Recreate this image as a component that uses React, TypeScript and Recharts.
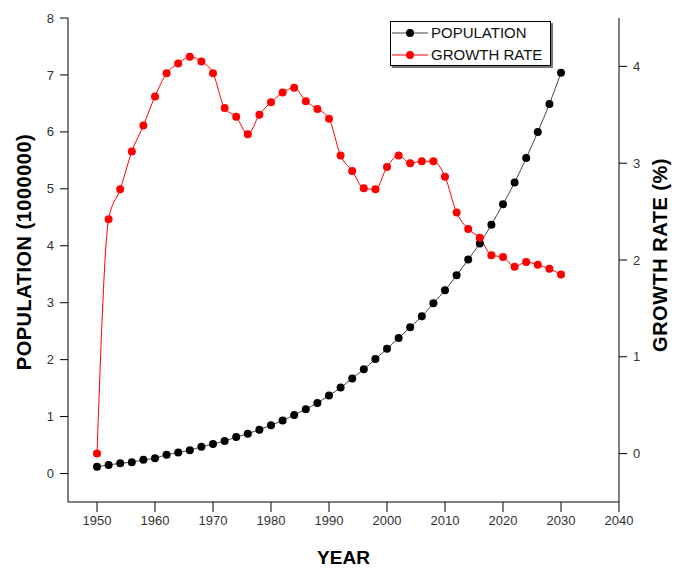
import {
  LineChart,
  Line,
  XAxis,
  YAxis,
  Legend,
  Label,
} from "recharts";

const years = [
  1950, 1952, 1954, 1956, 1958, 1960, 1962, 1964, 1966, 1968, 1970, 1972, 1974,
  1976, 1978, 1980, 1982, 1984, 1986, 1988, 1990, 1992, 1994, 1996, 1998, 2000,
  2002, 2004, 2006, 2008, 2010, 2012, 2014, 2016, 2018, 2020, 2022, 2024, 2026,
  2028, 2030,
];

// population, in units of 1000000 (left axis)
const population = [
  0.12, 0.15, 0.18, 0.2, 0.24, 0.27, 0.33, 0.37, 0.41, 0.47, 0.52, 0.57, 0.64,
  0.7, 0.77, 0.85, 0.93, 1.03, 1.13, 1.24, 1.37, 1.51, 1.67, 1.83, 2.01, 2.19,
  2.38, 2.57, 2.76, 2.99, 3.22, 3.48, 3.76, 4.04, 4.37, 4.73, 5.11, 5.54, 6.0,
  6.49, 7.04,
];

// growth rate in % (right axis)
const growthRate = [
  0.0, 2.42, 2.73, 3.12, 3.39, 3.69, 3.93, 4.03, 4.1, 4.05, 3.93, 3.57, 3.48,
  3.3, 3.5, 3.63, 3.73, 3.78, 3.64, 3.56, 3.46, 3.08, 2.92, 2.74, 2.73, 2.96,
  3.08, 3.0, 3.02, 3.02, 2.86, 2.49, 2.32, 2.23, 2.05, 2.03, 1.93, 1.98, 1.95,
  1.91, 1.85,
];

const yearTicks = [1950, 1960, 1970, 1980, 1990, 2000, 2010, 2020, 2030, 2040];
const popTicks = [0, 1, 2, 3, 4, 5, 6, 7, 8];
const rateTicks = [0, 1, 2, 3, 4];

const data = years.map((year, i) => ({
  year,
  population: population[i],
  growth: growthRate[i],
}));

const FONT = '"Liberation Sans", Arial, sans-serif';
const tickStyle = { fontSize: 13, fill: "#333", fontFamily: FONT };
const titleStyle = {
  fontSize: 19,
  fontWeight: 700,
  fill: "#000",
  fontFamily: FONT,
  textAnchor: "middle" as const,
};

// rotated axis title drawn at a fixed centre point
function sideTitle(text: string, cx: number, cy: number) {
  return () => (
    <text
      x={cx}
      y={cy}
      transform={`rotate(-90 ${cx} ${cy})`}
      textAnchor="middle"
      dominantBaseline="central"
      fontFamily={FONT}
      fontSize={20}
      fontWeight={700}
      letterSpacing={0.5}
      fill="#000"
    >
      {text}
    </text>
  );
}

const legendItems = [
  { name: "POPULATION", line: "#444", dot: "#000" },
  { name: "GROWTH RATE", line: "#ff0000", dot: "#ff0000" },
];

function renderLegend() {
  return (
    <div
      style={{
        border: "1px solid #000",
        boxShadow: "2px 2px 0 #777",
        background: "#fff",
        width: 159,
        height: 43,
        fontFamily: FONT,
        fontSize: 15,
        color: "#111",
      }}
    >
      {legendItems.map((item) => (
        <div
          key={item.name}
          style={{ display: "flex", alignItems: "center", height: 22 }}
        >
          <svg width={40} height={22}>
            <line x1={1} x2={37} y1={11} y2={11} stroke={item.line} strokeWidth={1} />
            <circle cx={19} cy={11} r={4} fill={item.dot} />
          </svg>
          <span style={{ lineHeight: "22px" }}>{item.name}</span>
        </div>
      ))}
    </div>
  );
}

export default function App() {
  return (
    <div style={{ position: "absolute", left: 0, top: 0, background: "#fff" }}>
      <LineChart
        width={681}
        height={570}
        data={data}
        margin={{ top: 18, right: 0, bottom: 0, left: 0 }}
      >
        <XAxis
          dataKey="year"
          type="number"
          domain={[1945, 2040]}
          ticks={yearTicks}
          allowDataOverflow
          height={68}
          stroke="#000"
          tickSize={10}
          tickMargin={4}
          tick={tickStyle}
        >
          <Label value="YEAR" position="insideBottom" offset={6} style={titleStyle} />
        </XAxis>
        <XAxis
          xAxisId="top"
          dataKey="year"
          type="number"
          domain={[1945, 2040]}
          orientation="top"
          height={0}
          tick={false}
          tickLine={false}
          stroke="#000"
        />
        <YAxis
          yAxisId="left"
          domain={[-0.5, 8]}
          ticks={popTicks}
          allowDataOverflow
          width={68}
          stroke="#000"
          tickSize={8}
          tickMargin={6}
          tick={tickStyle}
        >
          <Label content={sideTitle("POPULATION (1000000)", 24, 252)} />
        </YAxis>
        <YAxis
          yAxisId="right"
          orientation="right"
          domain={[-0.5, 4.5]}
          ticks={rateTicks}
          allowDataOverflow
          width={62}
          stroke="#000"
          tickSize={8}
          tickMargin={6}
          tick={tickStyle}
        >
          <Label content={sideTitle("GROWTH RATE (%)", 660, 255)} />
        </YAxis>
        <Legend
          layout="vertical"
          align="center"
          verticalAlign="middle"
          content={renderLegend}
          wrapperStyle={{ left: 390, top: 21, width: 163, height: 47 }}
        />
        <Line
          yAxisId="left"
          dataKey="population"
          name="POPULATION"
          type="monotone"
          stroke="#444"
          strokeWidth={1}
          dot={{ r: 4, fill: "#000", stroke: "#000", strokeWidth: 0 }}
          isAnimationActive={false}
        />
        <Line
          yAxisId="right"
          dataKey="growth"
          name="GROWTH RATE"
          type="monotone"
          stroke="#ff0000"
          strokeWidth={1}
          dot={{ r: 4, fill: "#ff0000", stroke: "#ff0000", strokeWidth: 0 }}
          isAnimationActive={false}
        />
      </LineChart>
    </div>
  );
}
